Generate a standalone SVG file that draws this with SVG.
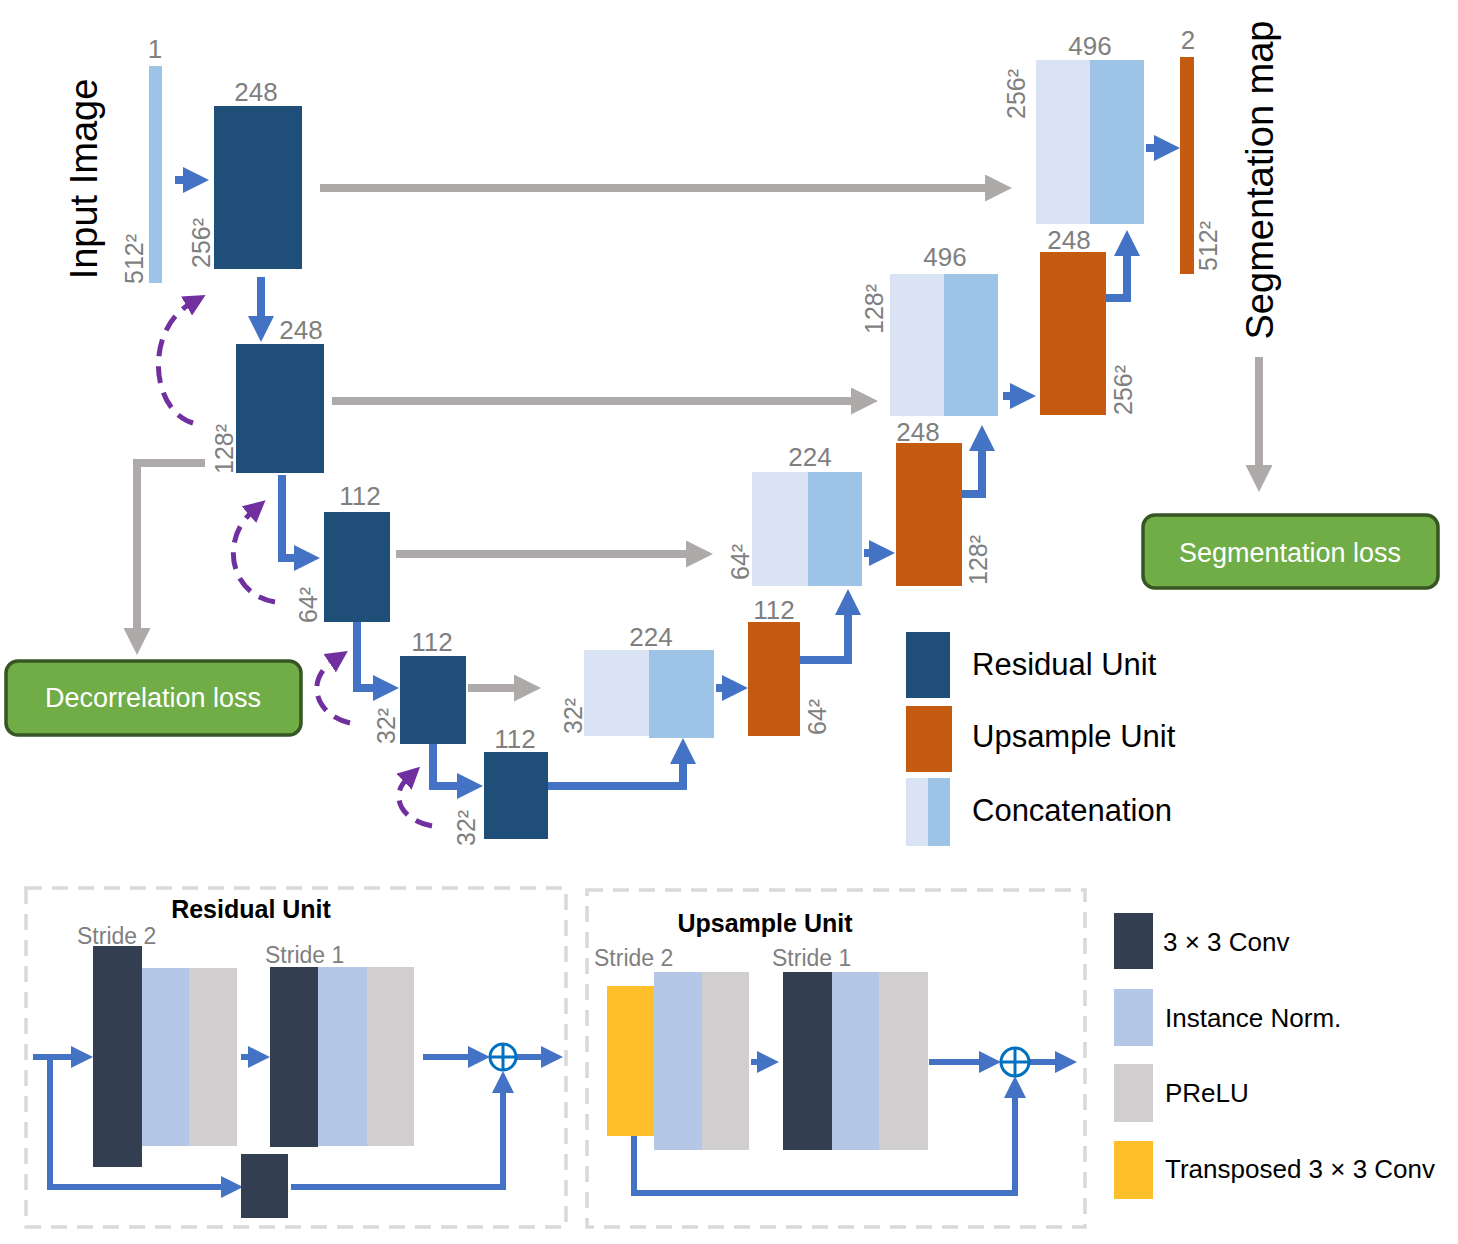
<svg xmlns="http://www.w3.org/2000/svg" width="1458" height="1244" viewBox="0 0 1458 1244">
<style>
text{font-family:"Liberation Sans",Arial,sans-serif}
.lbl{font-size:26px;fill:#7F7F7F;text-anchor:middle}
.dim{font-size:25px;fill:#7F7F7F}
.big{font-size:38px;fill:#000}
.leg{font-size:31px;fill:#000}
.leg2{font-size:26px;fill:#000}
.loss{font-size:27px;fill:#fff;text-anchor:middle}
.title{font-size:25px;font-weight:bold;fill:#000;text-anchor:middle}
.stride{font-size:23px;fill:#7F7F7F}
.res{fill:#1F4E79}
.up{fill:#C55A11}
.cl{fill:#DAE3F3}
.cb{fill:#9DC3E6}
.conv{fill:#333F50}
.norm{fill:#B4C7E7}
.prelu{fill:#D0CECE}
.tconv{fill:#FEBF2B}
.blue{fill:none;stroke:#4472C4;stroke-width:8;marker-end:url(#ab)}
.gray{fill:none;stroke:#AEAAAA;stroke-width:8;marker-end:url(#ag)}
.bs{fill:none;stroke:#4472C4;stroke-width:6;marker-end:url(#abs)}
.purple{fill:none;stroke:#7030A0;stroke-width:5;stroke-dasharray:17 10;marker-end:url(#ap)}
.green{fill:#70AD47;stroke:#375623;stroke-width:3.5}
.dash{fill:none;stroke:#D9D9D9;stroke-width:3.5;stroke-dasharray:16 10}
.plus{fill:#fff;stroke:#0070C0;stroke-width:3}
</style>
<defs>
<marker id="ab" markerUnits="userSpaceOnUse" markerWidth="26" markerHeight="26" viewBox="0 0 26 26" refX="8" refY="13" orient="auto"><path d="M0 0L26 13L0 26z" fill="#4472C4"/></marker>
<marker id="ag" markerUnits="userSpaceOnUse" markerWidth="27" markerHeight="27" viewBox="0 0 27 27" refX="9" refY="13.5" orient="auto"><path d="M0 0L27 13.5L0 27z" fill="#AEAAAA"/></marker>
<marker id="abs" markerUnits="userSpaceOnUse" markerWidth="22" markerHeight="22" viewBox="0 0 22 22" refX="6" refY="11" orient="auto"><path d="M0 0L22 11L0 22z" fill="#4472C4"/></marker>
<marker id="ap" markerUnits="userSpaceOnUse" markerWidth="22" markerHeight="22" viewBox="0 0 22 22" refX="4" refY="11" orient="auto"><path d="M0 0L22 11L0 22z" fill="#7030A0"/></marker>
</defs>

<g id="connectors">
<path class="gray" d="M320 188H994"/>
<path class="gray" d="M332 401H860"/>
<path class="gray" d="M396 554H695"/>
<path class="gray" d="M468 688H523"/>
<path class="gray" d="M205 463H137V637"/>
<path class="gray" d="M1259 357V474"/>
<path class="blue" d="M175 180H191"/>
<path class="blue" d="M261 277V324"/>
<path class="blue" d="M282 475V558H302"/>
<path class="blue" d="M357 622V688H381"/>
<path class="blue" d="M433 744V786H465"/>
<path class="blue" d="M548 786H683V756"/>
<path class="blue" d="M716 688H730"/>
<path class="blue" d="M800 660H848V607"/>
<path class="blue" d="M864 553H877"/>
<path class="blue" d="M962 494H982V443"/>
<path class="blue" d="M1003 396H1018"/>
<path class="blue" d="M1106 298H1127V248"/>
<path class="blue" d="M1146 148H1162"/>
<path class="purple" d="M193 423C150 410 145 330 190 304"/>
<path class="purple" d="M275 602C230 595 220 540 252 512"/>
<path class="purple" d="M350 723C315 715 305 680 333 661"/>
<path class="purple" d="M432 826C400 820 390 795 407 779"/>
<path class="bs" d="M33 1057H77"/>
<path class="bs" d="M50 1057V1187H227"/>
<path class="bs" d="M291 1187H503V1087"/>
<path class="bs" d="M241 1057H254"/>
<path class="bs" d="M423 1057H474"/>
<path class="bs" d="M516 1057H547"/>
<path class="bs" d="M751 1062H763"/>
<path class="bs" d="M929 1062H985"/>
<path class="bs" d="M1029 1062H1061"/>
<path class="bs" d="M634 1136V1193H1015V1092"/>
</g>

<g id="input">
<rect x="149" y="66" width="13" height="217" class="cb"/>
<text class="lbl" x="155" y="58">1</text>
<text class="dim" transform="translate(143,284) rotate(-90)">512²</text>
<text class="big" transform="translate(97,179) rotate(-90)" text-anchor="middle">Input Image</text>
</g>

<g id="res1">
<rect x="214" y="106" width="88" height="163" class="res"/>
<text class="lbl" x="256" y="101">248</text>
<text class="dim" transform="translate(210,268) rotate(-90)">256²</text>
</g>
<g id="res2">
<rect x="236" y="344" width="88" height="129" class="res"/>
<text class="lbl" x="301" y="339">248</text>
<text class="dim" transform="translate(233,474) rotate(-90)">128²</text>
</g>
<g id="res3">
<rect x="324" y="512" width="66" height="110" class="res"/>
<text class="lbl" x="360" y="505">112</text>
<text class="dim" transform="translate(317,623) rotate(-90)">64²</text>
</g>
<g id="res4">
<rect x="400" y="656" width="66" height="88" class="res"/>
<text class="lbl" x="432" y="651">112</text>
<text class="dim" transform="translate(395,744) rotate(-90)">32²</text>
</g>
<g id="res5">
<rect x="484" y="752" width="64" height="87" class="res"/>
<text class="lbl" x="515" y="748">112</text>
<text class="dim" transform="translate(475,846) rotate(-90)">32²</text>
</g>

<g id="cat32">
<rect x="584" y="650" width="65" height="86" class="cl"/>
<rect x="649" y="650" width="65" height="88" class="cb"/>
<text class="lbl" x="651" y="646">224</text>
<text class="dim" transform="translate(582,734) rotate(-90)">32²</text>
</g>
<g id="up1">
<rect x="748" y="622" width="52" height="114" class="up"/>
<text class="lbl" x="774" y="619">112</text>
<text class="dim" transform="translate(826,735) rotate(-90)">64²</text>
</g>
<g id="cat64">
<rect x="752" y="472" width="56" height="114" class="cl"/>
<rect x="808" y="472" width="54" height="114" class="cb"/>
<text class="lbl" x="810" y="466">224</text>
<text class="dim" transform="translate(749,580) rotate(-90)">64²</text>
</g>
<g id="up2">
<rect x="896" y="443" width="66" height="143" class="up"/>
<text class="lbl" x="918" y="441">248</text>
<text class="dim" transform="translate(987,585) rotate(-90)">128²</text>
</g>
<g id="cat128">
<rect x="890" y="274" width="54" height="142" class="cl"/>
<rect x="944" y="274" width="54" height="142" class="cb"/>
<text class="lbl" x="945" y="266">496</text>
<text class="dim" transform="translate(883,334) rotate(-90)">128²</text>
</g>
<g id="up3">
<rect x="1040" y="252" width="66" height="163" class="up"/>
<text class="lbl" x="1069" y="249">248</text>
<text class="dim" transform="translate(1132,415) rotate(-90)">256²</text>
</g>
<g id="cat256">
<rect x="1036" y="60" width="54" height="164" class="cl"/>
<rect x="1090" y="60" width="54" height="164" class="cb"/>
<text class="lbl" x="1090" y="55">496</text>
<text class="dim" transform="translate(1025,119) rotate(-90)">256²</text>
</g>
<g id="output">
<rect x="1180" y="57" width="14" height="217" class="up"/>
<text class="lbl" x="1188" y="49">2</text>
<text class="dim" transform="translate(1217,271) rotate(-90)">512²</text>
<text class="big" transform="translate(1273,180) rotate(-90)" text-anchor="middle">Segmentation map</text>
</g>

<g id="seg-loss">
<rect x="1143" y="515" width="295" height="73" rx="12" class="green"/>
<text class="loss" x="1290" y="562">Segmentation loss</text>
</g>
<g id="decor-loss">
<rect x="6" y="661" width="295" height="74" rx="12" class="green"/>
<text class="loss" x="153" y="707">Decorrelation loss</text>
</g>

<g id="legend-top">
<rect x="906" y="632" width="44" height="66" class="res"/>
<text class="leg" x="972" y="675">Residual Unit</text>
<rect x="906" y="706" width="46" height="66" class="up"/>
<text class="leg" x="972" y="747">Upsample Unit</text>
<rect x="906" y="778" width="22" height="68" class="cl"/>
<rect x="928" y="778" width="22" height="68" class="cb"/>
<text class="leg" x="972" y="821">Concatenation</text>
</g>

<g id="residual-unit">
<rect x="26" y="888" width="540" height="339" class="dash"/>
<text class="title" x="251" y="918">Residual Unit</text>
<text class="stride" x="77" y="944">Stride 2</text>
<text class="stride" x="265" y="963">Stride 1</text>
<rect x="93" y="946" width="49" height="221" class="conv"/>
<rect x="142" y="968" width="47" height="178" class="norm"/>
<rect x="189" y="968" width="48" height="178" class="prelu"/>
<rect x="270" y="967" width="48" height="180" class="conv"/>
<rect x="318" y="967" width="49" height="179" class="norm"/>
<rect x="367" y="967" width="47" height="179" class="prelu"/>
<rect x="241" y="1154" width="47" height="64" class="conv"/>
<circle cx="503" cy="1057" r="13" class="plus"/>
<path d="M490 1057H516M503 1044V1070" stroke="#0070C0" stroke-width="3"/>
</g>

<g id="upsample-unit">
<rect x="587" y="890" width="498" height="337" class="dash"/>
<text class="title" x="765" y="932">Upsample Unit</text>
<text class="stride" x="594" y="966">Stride 2</text>
<text class="stride" x="772" y="966">Stride 1</text>
<rect x="607" y="986" width="47" height="150" class="tconv"/>
<rect x="654" y="972" width="48" height="178" class="norm"/>
<rect x="702" y="972" width="47" height="178" class="prelu"/>
<rect x="783" y="972" width="49" height="178" class="conv"/>
<rect x="832" y="972" width="47" height="178" class="norm"/>
<rect x="879" y="972" width="49" height="178" class="prelu"/>
<circle cx="1015" cy="1062" r="14" class="plus"/>
<path d="M1001 1062H1029M1015 1048V1076" stroke="#0070C0" stroke-width="3"/>
</g>

<g id="legend-bottom">
<rect x="1114" y="913" width="39" height="56" class="conv"/>
<text class="leg2" x="1163" y="951">3 × 3 Conv</text>
<rect x="1114" y="989" width="39" height="57" class="norm"/>
<text class="leg2" x="1165" y="1027">Instance Norm.</text>
<rect x="1114" y="1064" width="39" height="58" class="prelu"/>
<text class="leg2" x="1165" y="1102">PReLU</text>
<rect x="1114" y="1141" width="39" height="58" class="tconv"/>
<text class="leg2" x="1165" y="1178">Transposed 3 × 3 Conv</text>
</g>
</svg>
